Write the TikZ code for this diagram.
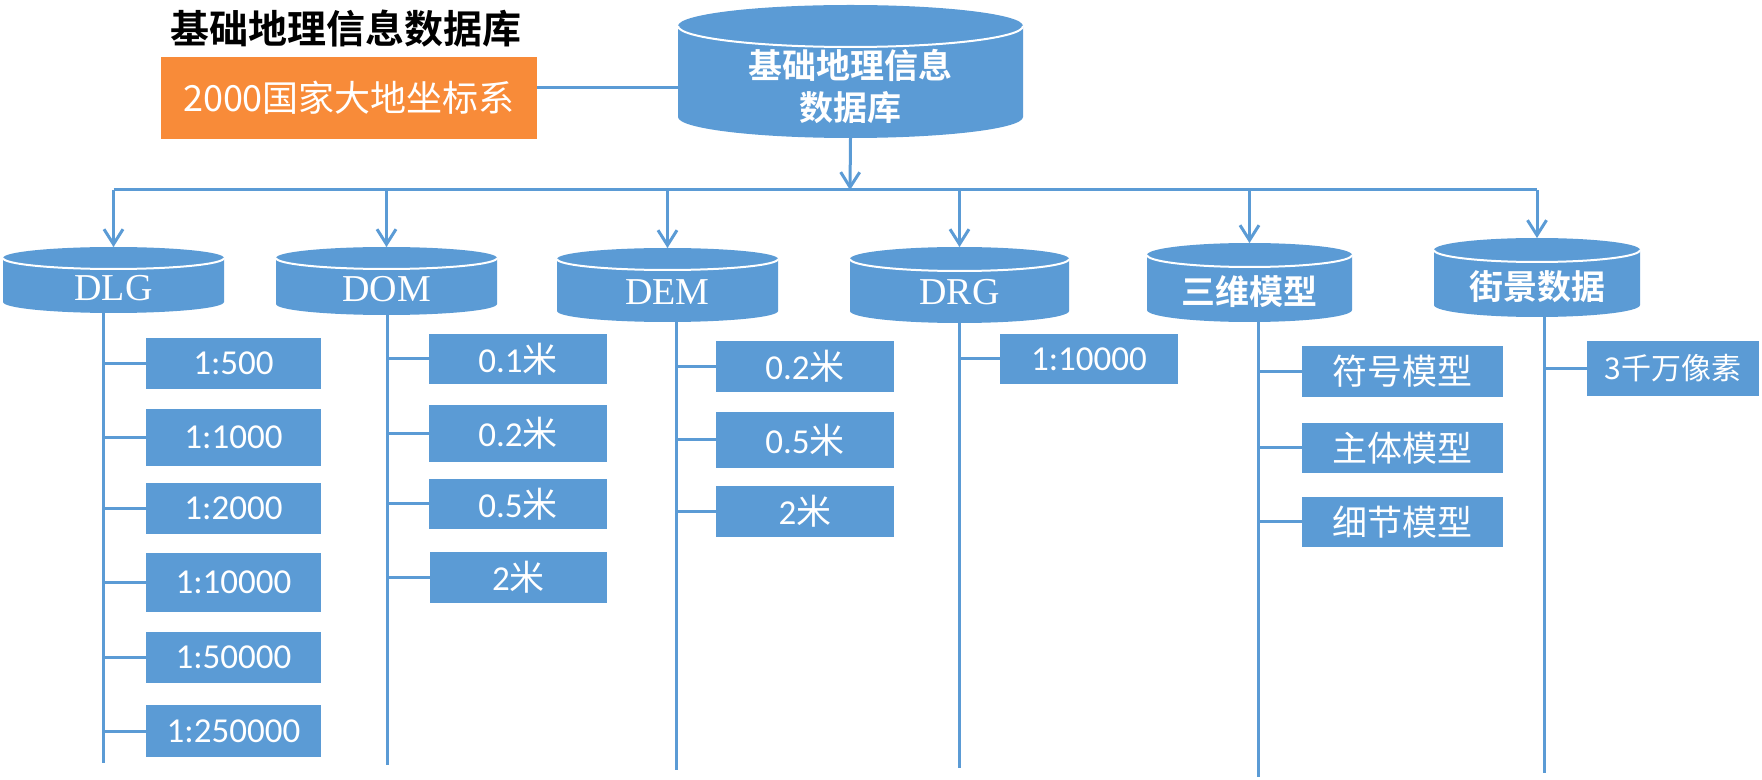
\documentclass[tikz,border=0pt]{standalone}
\usepackage{fontspec}
\usetikzlibrary{arrows.meta}
\newfontfamily\cjk{Noto Sans CJK SC}[BoldFont={* Bold}]
\newfontfamily\carl{Carlito}
\newfontfamily\tnr{Liberation Serif}
\definecolor{canblue}{RGB}{91,155,213}
\definecolor{zorange}{RGB}{248,139,57}
\newcommand\mkcan[9]{%
  \fill[canblue] (#2,#4+#6) -- (#2,#5-#6)
    arc[start angle=180,end angle=0,x radius={(#3-#2)/2},y radius=#6]
    -- (#3,#4+#6)
    arc[start angle=0,end angle=-180,x radius={(#3-#2)/2},y radius=#6] -- cycle;
  \draw[white,line width=1pt] (#2,#4+#6)
    arc[start angle=180,end angle=0,x radius={(#3-#2)/2},y radius=#6];
  \node[anchorbox,minimum width={(#3-#2)*0.5pt},minimum height={(#5-#4)*0.5pt}]
    (#1) at ({(#2+#3)/2},{(#4+#5)/2}) {};
  \node[cantext,font=#8] (#1t) at ({(#2+#3)/2},#7) {#9};
}
\newcommand\mkbox[6]{%
  \node[itembox,minimum width={(#3-#2)*0.5pt},minimum height={(#5-#4)*0.5pt}]
    (#1) at ({(#2+#3)/2},{(#4+#5)/2}) {#6};
}
\newcommand\latfont{\tnr\fontsize{19}{22}\selectfont}
\newcommand\cjkbold{\cjk\bfseries\fontsize{17}{21}\selectfont}
\begin{document}
\begin{tikzpicture}[x=0.5pt,y=-0.5pt,
  conn/.style={draw=canblue,line width=1.5pt},
  arr/.style={conn,-{Straight Barb[length=7.5pt,width=9.5pt]}},
  anchorbox/.style={inner sep=0pt,outer sep=0pt,draw=none},
  cantext/.style={text=white,inner sep=0pt,align=center},
  itembox/.style={fill=canblue,text=white,inner sep=0pt,outer sep=0pt,
    font=\carl\fontsize{17.5}{21}\selectfont}]
\useasboundingbox (0,0) rectangle (1762,780);

% title and coordinate system box
\node[inner sep=0pt,font=\cjk\bfseries\fontsize{19.5}{23}\selectfont] (title) at (346,29) {基础地理信息数据库};
\node[fill=zorange,text=white,inner sep=0pt,minimum width=188pt,minimum height=41pt,
  font=\cjk\fontsize{18}{21}\selectfont] (zb) at (349,98) {2000国家大地坐标系};

% cylinders
\mkcan{main}{678}{1023}{5}{138}{21}{86}{\cjkbold}{基础地理信息\\数据库}
\mkcan{dlg}{3}{224}{247}{313}{11}{288}{\latfont}{DLG}
\mkcan{dom}{276}{497}{247}{315}{11}{289}{\latfont}{DOM}
\mkcan{dem}{557}{778}{248}{322}{11}{292}{\latfont}{DEM}
\mkcan{drg}{850}{1069}{247}{323}{12}{292}{\latfont}{DRG}
\mkcan{swmx}{1147}{1352}{243}{322}{12}{292}{\cjkbold}{三维模型}
\mkcan{jjsj}{1434}{1640}{238}{317}{12}{287}{\cjkbold}{街景数据}

% top connectors
\coordinate (busy) at (850,190);
\draw[conn] (zb.east |- 0,88) -- (main.west |- 0,88);
\draw[arr] (main.south) -- (busy);
\draw[conn] (dlg.north |- busy) -- (jjsj.north |- busy);
\foreach \n in {dlg,dom,dem,drg,swmx,jjsj}{
  \draw[arr] (\n.north |- busy) -- (\n.north);
}

% item boxes
\mkbox{a1}{146}{321}{338}{389}{1:500}
\mkbox{a2}{146}{321}{409}{466}{1:1000}
\mkbox{a3}{146}{321}{483}{534}{1:2000}
\mkbox{a4}{146}{321}{553}{612}{1:10000}
\mkbox{a5}{146}{321}{632}{683}{1:50000}
\mkbox{a6}{146}{321}{705}{757}{1:250000}

\mkbox{b1}{429}{607}{334}{384}{0.1{\cjk 米}}
\mkbox{b2}{429}{607}{405}{462}{0.2{\cjk 米}}
\mkbox{b3}{429}{607}{479}{529}{0.5{\cjk 米}}
\mkbox{b4}{430}{607}{552}{603}{2{\cjk 米}}

\mkbox{c1}{716}{894}{341}{392}{0.2{\cjk 米}}
\mkbox{c2}{716}{894}{412}{468}{0.5{\cjk 米}}
\mkbox{c3}{716}{894}{486}{537}{2{\cjk 米}}

\mkbox{d1}{1000}{1178}{334}{384}{1:10000}

\mkbox{e1}{1302}{1503}{346}{397}{{\cjk 符号模型}}
\mkbox{e2}{1302}{1503}{423}{473}{{\cjk 主体模型}}
\mkbox{e3}{1302}{1503}{497}{547}{{\cjk 细节模型}}

\mkbox{f1}{1587}{1759}{341}{396}{{\cjk\fontsize{15}{18}\selectfont 3千万像素}}

% trunks
\coordinate (dlgend) at (103,763);
\coordinate (domend) at (387,765);
\coordinate (demend) at (676,770);
\coordinate (drgend) at (959,768);
\coordinate (swmxend) at (1258,777);
\coordinate (jjsjend) at (1544,773);
\foreach \n in {dlg,dom,dem,drg,swmx,jjsj}{
  \draw[conn] (\n end |- \n.south) -- (\n end);
}

% stubs
\foreach \b in {a1,a2,a3,a4,a5,a6}{\draw[conn] (\b.west -| dlgend) -- (\b.west);}
\foreach \b in {b1,b2,b3,b4}{\draw[conn] (\b.west -| domend) -- (\b.west);}
\foreach \b in {c1,c2,c3}{\draw[conn] (\b.west -| demend) -- (\b.west);}
\draw[conn] (d1.west -| drgend) -- (d1.west);
\foreach \b in {e1,e2,e3}{\draw[conn] (\b.west -| swmxend) -- (\b.west);}
\draw[conn] (f1.west -| jjsjend) -- (f1.west);
\end{tikzpicture}
\end{document}
